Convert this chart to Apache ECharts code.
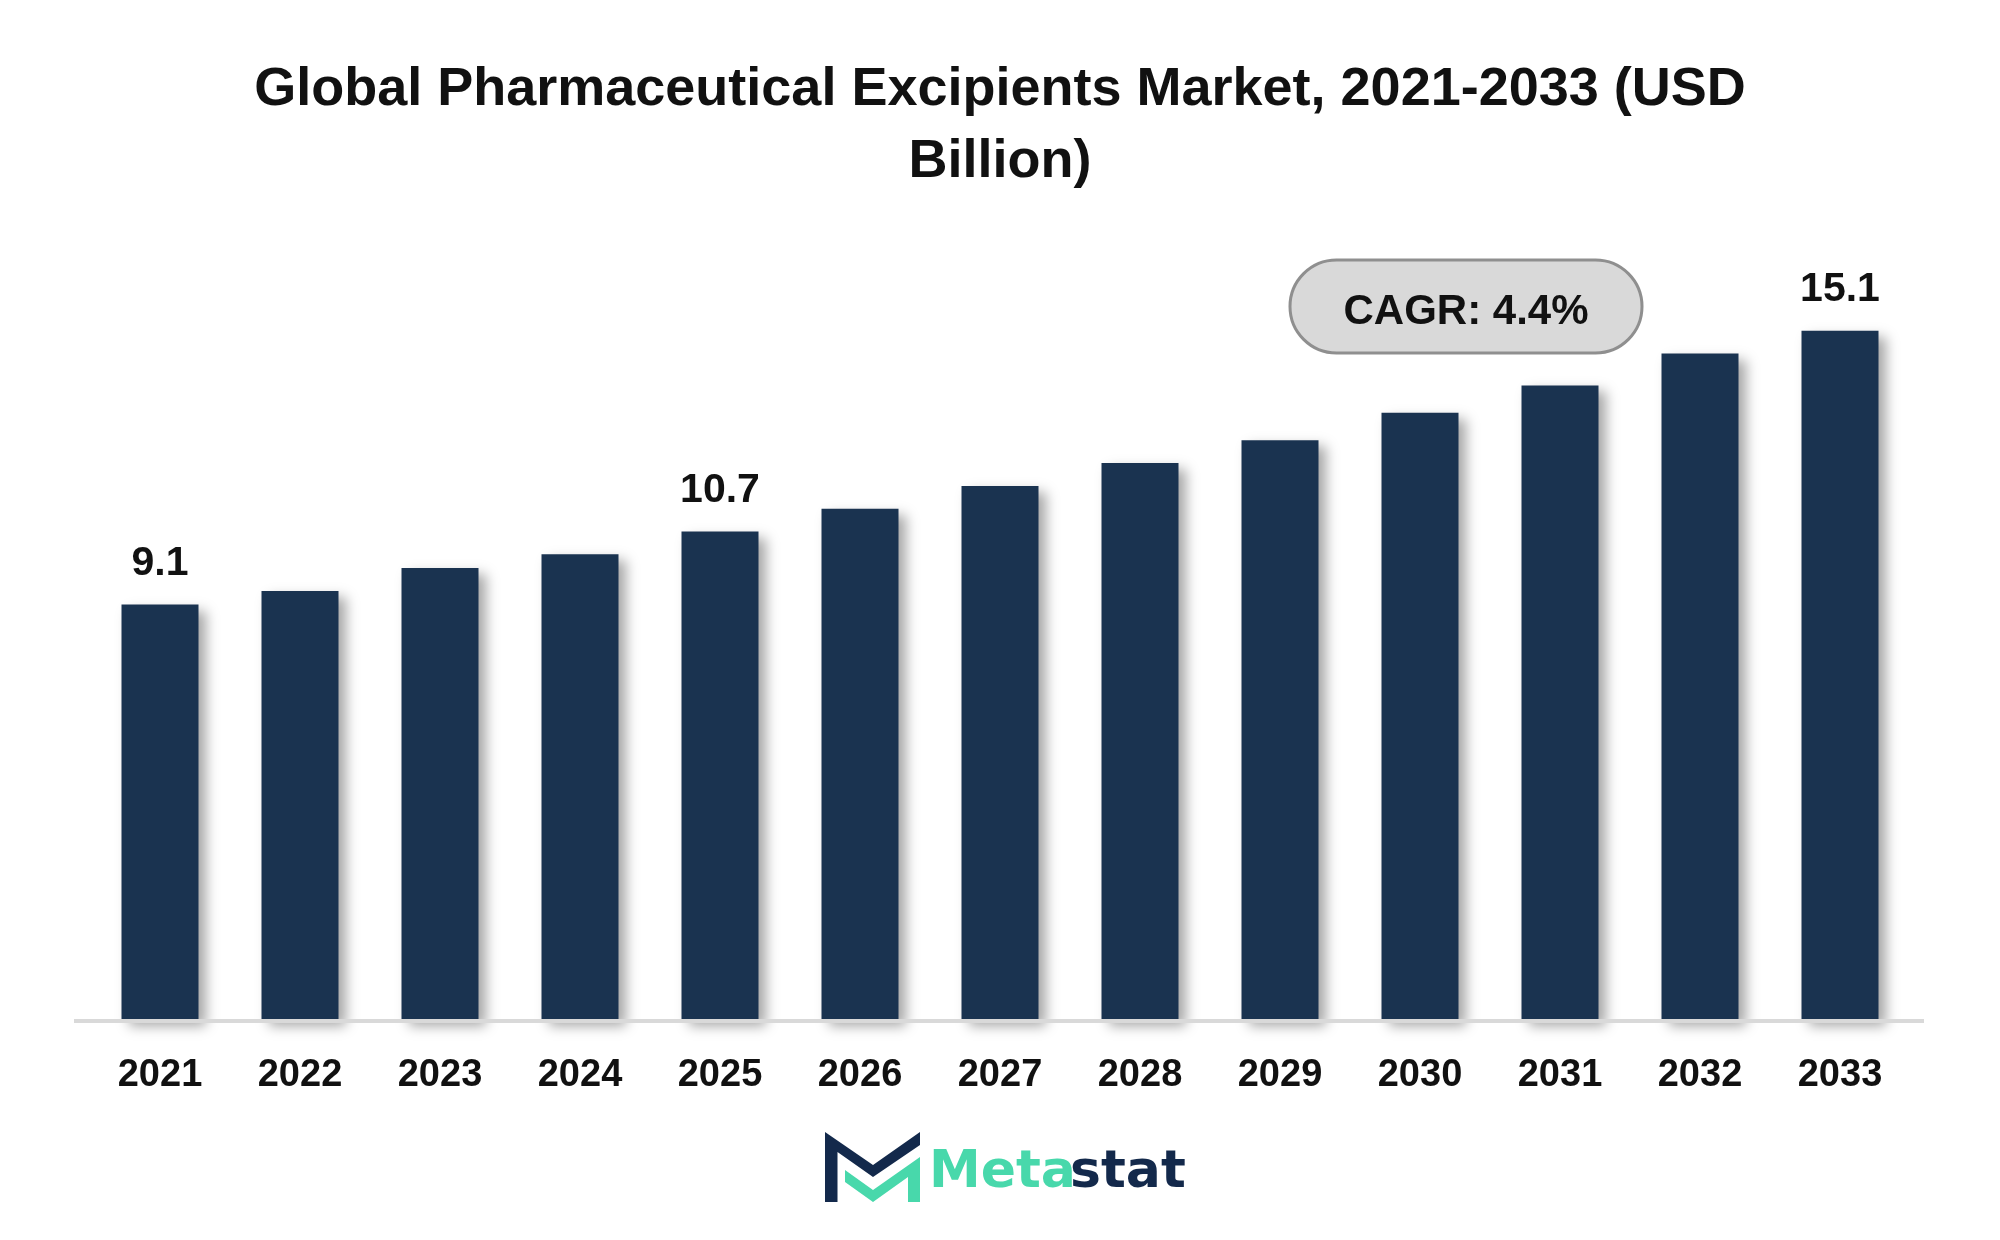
<!DOCTYPE html>
<html><head><meta charset="utf-8">
<script src="https://cdn.jsdelivr.net/npm/echarts@6/dist/echarts.min.js"></script>
<style>html,body{margin:0;padding:0;background:#fff}#c{width:2000px;height:1240px}</style>
</head><body><div id="c"></div>
<script>
const years = ['2021','2022','2023','2024','2025','2026','2027','2028','2029','2030','2031','2032','2033'];
const values = [9.1, 9.4, 9.9, 10.2, 10.7, 11.2, 11.7, 12.2, 12.7, 13.3, 13.9, 14.6, 15.1];
const labeledYears = ['2021', '2025', '2033'];
const titleLines = ['Global Pharmaceutical Excipients Market, 2021-2033 (USD', 'Billion)'];
const cagrText = 'CAGR: 4.4%';
const logoParts = ['Meta', 'stat'];

const FONT = "'Liberation Sans', Arial, sans-serif";
const NAVY = '#1a3350';
const chart = echarts.init(document.getElementById('c'), null, {renderer: 'canvas'});

const baseGraphic = [
  {
    id: 'cagr', type: 'group', z: 50,
    children: [
      {type: 'rect', shape: {x: 1290, y: 260, width: 352, height: 93, r: 46.5},
       style: {fill: '#d9d9d9', stroke: '#8f8f8f', lineWidth: 3}},
      {type: 'text', style: {text: cagrText, x: 1466, y: 312, textAlign: 'center', textVerticalAlign: 'middle',
        font: 'bold 42px ' + FONT, fill: '#111'}}
    ]
  },
  {
    id: 'logo', type: 'group', z: 50,
    children: [
      {type: 'polygon', shape: {points: [[825,1132],[873,1165],[920,1132],[920,1145],[873,1177],[837.5,1152],[837.5,1202],[825,1202]]},
       style: {fill: '#13294b'}},
      {type: 'polygon', shape: {points: [[845,1170],[873,1190],[920,1157],[920,1202],[908,1202],[908,1177],[873,1202],[845,1182]]},
       style: {fill: '#48d8ab'}},
      {type: 'text', style: {text: logoParts[0], x: 929, y: 1173, textAlign: 'left', textVerticalAlign: 'middle',
        font: "bold 52px 'DejaVu Sans', sans-serif", fill: '#48d8ab'}},
      {type: 'text', style: {text: logoParts[1], x: 1070, y: 1173, textAlign: 'left', textVerticalAlign: 'middle',
        font: "bold 52px 'DejaVu Sans', sans-serif", fill: '#13294b'}}
    ]
  }
];

chart.setOption({
  backgroundColor: '#ffffff',
  animation: false,
  title: {
    text: titleLines.join('\n'),
    left: 'center', top: 54, padding: 0,
    textStyle: {fontFamily: FONT, fontWeight: 'bold', fontSize: 54, lineHeight: 72, color: '#111'}
  },
  grid: {left: 90, right: 90, top: 107, bottom: 220, containLabel: false},
  xAxis: {
    type: 'category', data: years,
    axisLine: {show: false},
    axisTick: {show: false},
    axisLabel: {fontFamily: FONT, fontWeight: 'bold', fontSize: 38, color: '#111', margin: 37}
  },
  yAxis: {type: 'value', min: 0, max: 20, show: false, splitLine: {show: false}},
  series: [{
    type: 'bar',
    barWidth: 77,
    data: values.map((v, i) => ({value: v, label: {show: labeledYears.includes(years[i])}})),
    itemStyle: {color: NAVY, shadowColor: 'rgba(0,0,0,0.35)', shadowBlur: 12, shadowOffsetX: 7, shadowOffsetY: 6},
    label: {
      position: 'top', distance: 20,
      fontFamily: FONT, fontWeight: 'bold', fontSize: 41, color: '#111',
      formatter: p => p.value.toFixed(1)
    }
  }],
  graphic: baseGraphic
});

const base = chart.convertToPixel({gridIndex: 0}, [0, 0]);
const baseY = base[1];
chart.setOption({
  graphic: [{
    id: 'axisline', type: 'line', z: 40,
    shape: {x1: 74, y1: baseY + 1, x2: 1924, y2: baseY + 1},
    style: {stroke: '#d9d9d9', lineWidth: 4}
  }]
});
</script>
</body></html>
